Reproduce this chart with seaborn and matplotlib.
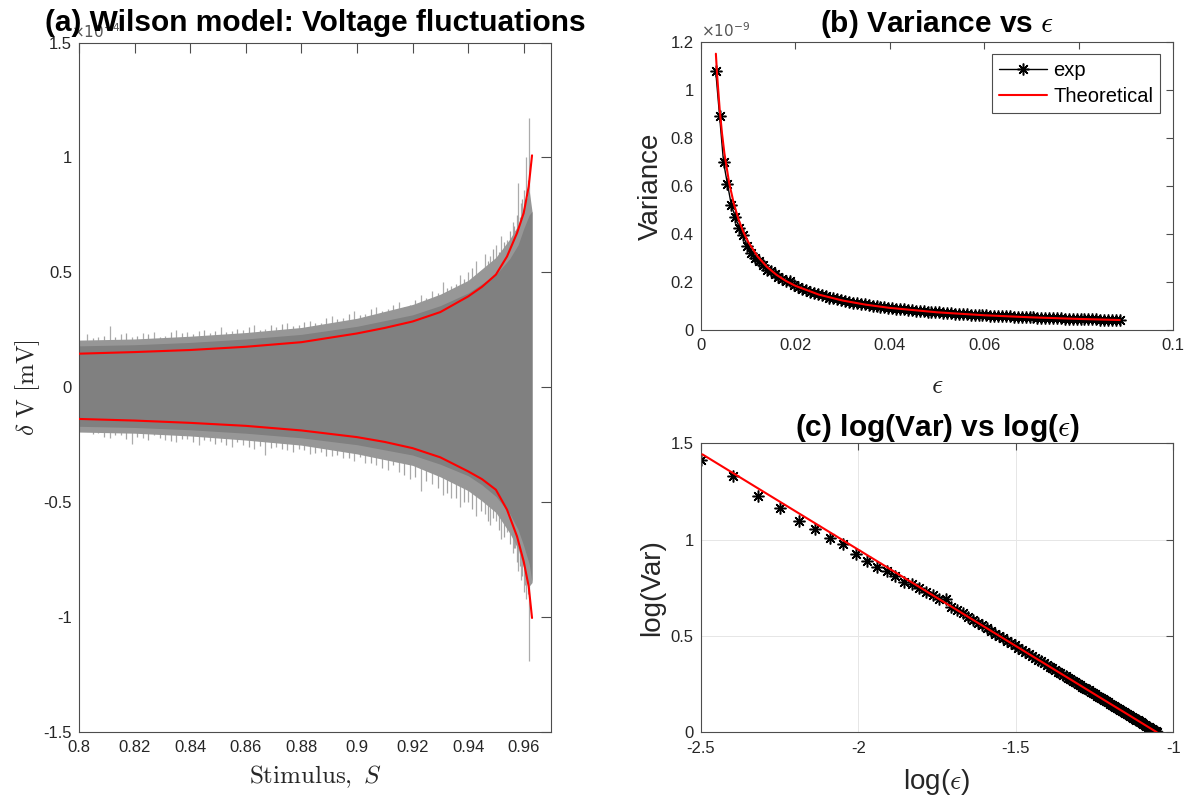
import numpy as np
import matplotlib
matplotlib.use("Agg")
import matplotlib.pyplot as plt
import seaborn as sns
from matplotlib.ticker import FixedLocator, FuncFormatter

# ---------------- data ----------------
# (a) voltage fluctuations, values in units of 1e-4 mV
S_core = [0.800, 0.820, 0.840, 0.860, 0.880, 0.900, 0.920, 0.930, 0.940, 0.945,
          0.950, 0.955, 0.958, 0.960, 0.962, 0.963]
core_hi = [0.180, 0.185, 0.195, 0.21, 0.23, 0.265, 0.315, 0.355, 0.41, 0.45,
           0.49, 0.56, 0.62, 0.69, 0.75, 0.765]
core_lo = [-0.170, -0.175, -0.185, -0.20, -0.22, -0.25, -0.295, -0.335, -0.385, -0.425,
           -0.475, -0.55, -0.62, -0.69, -0.77, -0.85]
fuzz_hi = [0.205, 0.21, 0.222, 0.238, 0.26, 0.30, 0.36, 0.405, 0.465, 0.515,
           0.565, 0.645, 0.705, 0.785, 0.855, 0.765]
fuzz_lo = [-0.195, -0.20, -0.212, -0.23, -0.252, -0.29, -0.34, -0.39, -0.45, -0.495,
           -0.545, -0.635, -0.705, -0.785, -0.865, -0.85]

S_spk = [0.803, 0.807, 0.811, 0.815, 0.819, 0.823, 0.827, 0.831, 0.835, 0.839,
         0.843, 0.847, 0.851, 0.855, 0.859, 0.863, 0.867, 0.871, 0.875, 0.879,
         0.883, 0.887, 0.891, 0.895, 0.899, 0.903, 0.907, 0.911, 0.915, 0.919,
         0.923, 0.927, 0.931, 0.934, 0.937, 0.940, 0.943, 0.946, 0.948, 0.950,
         0.952, 0.954, 0.956, 0.957, 0.958, 0.959, 0.960, 0.961, 0.962]
up_spk = [0.23, 0.22, 0.267, 0.23, 0.22, 0.235, 0.24, 0.225, 0.25, 0.24,
          0.245, 0.235, 0.26, 0.245, 0.25, 0.27, 0.255, 0.26, 0.28, 0.27,
          0.29, 0.28, 0.31, 0.30, 0.33, 0.32, 0.35, 0.34, 0.37, 0.36,
          0.40, 0.42, 0.46, 0.44, 0.49, 0.50, 0.55, 0.58, 0.57, 0.62,
          0.66, 0.64, 0.72, 0.68, 0.89, 0.80, 0.86, 1.00, 1.17]
lo_spk = [-0.19, -0.20, -0.22, -0.21, -0.245, -0.22, -0.21, -0.23, -0.24, -0.225,
          -0.25, -0.235, -0.24, -0.26, -0.25, -0.27, -0.294, -0.26, -0.275, -0.27,
          -0.29, -0.28, -0.30, -0.31, -0.32, -0.33, -0.34, -0.36, -0.37, -0.40,
          -0.45, -0.42, -0.47, -0.48, -0.52, -0.50, -0.56, -0.55, -0.60, -0.58,
          -0.66, -0.63, -0.72, -0.70, -0.80, -0.84, -0.89, -0.92, -1.19]

S_spk2 = [0.805, 0.809, 0.813, 0.817, 0.821, 0.825, 0.829, 0.833, 0.837, 0.841,
          0.845, 0.849, 0.853, 0.857, 0.861, 0.865, 0.869, 0.873, 0.877, 0.881,
          0.885, 0.889, 0.893, 0.897, 0.901, 0.905, 0.909, 0.913, 0.917, 0.921,
          0.925, 0.929, 0.9325, 0.9355, 0.9385, 0.9415, 0.9445, 0.947, 0.949, 0.951,
          0.953, 0.955, 0.9565, 0.9575, 0.9585, 0.9595, 0.9605, 0.9615]
up_spk2 = [0.215, 0.225, 0.22, 0.235, 0.225, 0.23, 0.22, 0.24, 0.235, 0.23,
           0.25, 0.245, 0.24, 0.255, 0.26, 0.25, 0.27, 0.275, 0.265, 0.285,
           0.28, 0.30, 0.295, 0.32, 0.315, 0.34, 0.33, 0.36, 0.35, 0.38,
           0.39, 0.41, 0.43, 0.45, 0.47, 0.52, 0.50, 0.55, 0.60, 0.59,
           0.63, 0.68, 0.70, 0.75, 0.74, 0.82, 0.78, 0.90]
lo_spk2 = [-0.205, -0.215, -0.21, -0.225, -0.215, -0.23, -0.22, -0.235, -0.225, -0.24,
           -0.23, -0.245, -0.25, -0.24, -0.26, -0.255, -0.265, -0.27, -0.28, -0.275,
           -0.285, -0.30, -0.295, -0.31, -0.305, -0.33, -0.35, -0.34, -0.38, -0.39,
           -0.41, -0.44, -0.46, -0.48, -0.50, -0.53, -0.54, -0.58, -0.57, -0.62,
           -0.65, -0.68, -0.70, -0.76, -0.78, -0.82, -0.86, -0.90]

S_th = [0.800, 0.820, 0.840, 0.860, 0.880, 0.900, 0.910, 0.920, 0.930, 0.940,
        0.945, 0.950, 0.954, 0.9576, 0.960, 0.9618, 0.963]
up_th = [0.146, 0.153, 0.162, 0.176, 0.196, 0.234, 0.258, 0.286, 0.327, 0.395,
         0.437, 0.49, 0.569, 0.671, 0.758, 0.874, 1.009]
lo_th = [-0.138, -0.145, -0.155, -0.168, -0.188, -0.217, -0.238, -0.265, -0.305, -0.366,
         -0.40, -0.446, -0.533, -0.649, -0.758, -0.867, -1.004]

# (b) variance vs epsilon, variance in units of 1e-9
eps_exp = [0.00316, 0.00399, 0.00482, 0.00565, 0.00648, 0.00731, 0.00814, 0.00897, 0.00980, 0.01063,
           0.01146, 0.01229, 0.01312, 0.01395, 0.01478, 0.01561, 0.01644, 0.01727, 0.01810, 0.01893,
           0.01976, 0.02059, 0.02142, 0.02225, 0.02308, 0.02391, 0.02474, 0.02557, 0.02640, 0.02723,
           0.02806, 0.02889, 0.02972, 0.03055, 0.03138, 0.03221, 0.03304, 0.03387, 0.03470, 0.03553,
           0.03636, 0.03719, 0.03802, 0.03885, 0.03968, 0.04051, 0.04134, 0.04217, 0.04300, 0.04383,
           0.04466, 0.04549, 0.04632, 0.04715, 0.04798, 0.04881, 0.04964, 0.05047, 0.05130, 0.05213,
           0.05296, 0.05379, 0.05462, 0.05545, 0.05628, 0.05711, 0.05794, 0.05877, 0.05960, 0.06043,
           0.06126, 0.06209, 0.06292, 0.06375, 0.06458, 0.06541, 0.06624, 0.06707, 0.06790, 0.06873,
           0.06956, 0.07039, 0.07122, 0.07205, 0.07288, 0.07371, 0.07454, 0.07537, 0.07620, 0.07703,
           0.07786, 0.07869, 0.07952, 0.08035, 0.08118, 0.08201, 0.08284, 0.08367, 0.08450, 0.08533,
           0.08616, 0.08699, 0.08782, 0.08865]
var_exp = [1.080, 0.890, 0.699, 0.607, 0.520, 0.470, 0.4255, 0.396, 0.349, 0.3205,
           0.300, 0.2855, 0.269, 0.249, 0.245, 0.233, 0.222, 0.2131, 0.2033, 0.2045,
           0.1862, 0.1787, 0.1718, 0.1654, 0.1594, 0.1539, 0.1487, 0.1439, 0.1394, 0.1351,
           0.1311, 0.1274, 0.1238, 0.1205, 0.1173, 0.1142, 0.1114, 0.1087, 0.1061, 0.1036,
           0.1012, 0.0990, 0.0968, 0.0947, 0.0927, 0.0908, 0.0890, 0.0873, 0.0856, 0.0840,
           0.0824, 0.0809, 0.0794, 0.0780, 0.0767, 0.0754, 0.0741, 0.0729, 0.0717, 0.0706,
           0.0695, 0.0684, 0.0674, 0.0664, 0.0654, 0.0644, 0.0635, 0.0626, 0.0617, 0.0609,
           0.0601, 0.0593, 0.0585, 0.0577, 0.0570, 0.0563, 0.0556, 0.0549, 0.0542, 0.0535,
           0.0529, 0.0523, 0.0517, 0.0511, 0.0505, 0.0499, 0.0494, 0.0488, 0.0483, 0.0478,
           0.0473, 0.0468, 0.0463, 0.0458, 0.0453, 0.0449, 0.0444, 0.0440, 0.0436, 0.0431,
           0.0427, 0.0423, 0.0419, 0.0415]

eps_th = [0.0032, 0.0035, 0.004, 0.0045, 0.005, 0.006, 0.007, 0.008, 0.009, 0.010,
          0.012, 0.014, 0.016, 0.018, 0.020, 0.025, 0.030, 0.035, 0.040, 0.050,
          0.060, 0.070, 0.080, 0.08865]
var_th = [1.150, 1.0514, 0.920, 0.8178, 0.736, 0.6133, 0.5257, 0.460, 0.4089, 0.368,
          0.3067, 0.2629, 0.230, 0.2044, 0.184, 0.1472, 0.1227, 0.1051, 0.092, 0.0736,
          0.0613, 0.0526, 0.046, 0.04151]

# (c) log-log representation (normalised by last measured variance)
var_ref = var_exp[-1]
log_eps_exp = np.log10(eps_exp)
log_var_exp = np.log10(np.array(var_exp) / var_ref)
log_eps_th = np.log10(eps_th)
log_var_th = np.log10(np.array(var_th) / var_ref)

# ---------------- style ----------------
sns.set_theme(style="white")
plt.rcParams["font.family"] = ["Liberation Sans", "DejaVu Sans"]
plt.rcParams["mathtext.fontset"] = "cm"
plt.rcParams["axes.unicode_minus"] = False

AX_COL = "#4d4d4d"
TXT_COL = "#262626"
fmt = FuncFormatter(lambda v, p: "%g" % round(v, 6))

fig = plt.figure(figsize=(11.95, 7.99), dpi=100)
axa = fig.add_axes([0.0661, 0.0839, 0.3954, 0.8629])
axb = fig.add_axes([0.5864, 0.5870, 0.3955, 0.3608])
axc = fig.add_axes([0.5864, 0.0835, 0.3955, 0.3617])

def style_axis(ax, ticklen):
    for sp in ax.spines.values():
        sp.set_color(AX_COL)
        sp.set_linewidth(0.8)
        sp.set_visible(True)
    ax.tick_params(direction="in", top=True, right=True, length=ticklen,
                   width=0.8, color=AX_COL, labelsize=12, labelcolor=TXT_COL)
    ax.tick_params(axis="y", pad=5)
    ax.tick_params(axis="x", pad=6)
    ax.xaxis.set_major_formatter(fmt)
    ax.yaxis.set_major_formatter(fmt)

TITLE_FS = 21.5
LABEL_FS = 20

# ---------------- (a) ----------------
axa.vlines(S_spk, lo_spk, up_spk, colors="#ababab", linewidth=0.9, zorder=1)
axa.vlines(S_spk2, lo_spk2, up_spk2, colors="#a3a3a3", linewidth=0.9, zorder=1)
axa.fill_between(S_core, fuzz_lo, fuzz_hi, color="#979797", linewidth=0, zorder=1.5)
axa.fill_between(S_core, core_lo, core_hi, color="#808080", linewidth=0, zorder=2)
sns.lineplot(x=S_th, y=up_th, ax=axa, color="red", linewidth=1.5, estimator=None, sort=False, zorder=3)
sns.lineplot(x=S_th, y=lo_th, ax=axa, color="red", linewidth=1.5, estimator=None, sort=False, zorder=3)
axa.set_xlim(0.8, 0.97)
axa.set_ylim(-1.5, 1.5)
axa.xaxis.set_major_locator(FixedLocator([0.8, 0.82, 0.84, 0.86, 0.88, 0.9, 0.92, 0.94, 0.96]))
axa.yaxis.set_major_locator(FixedLocator([-1.5, -1, -0.5, 0, 0.5, 1, 1.5]))
style_axis(axa, 7)
axa.set_xlabel(r"$\mathrm{Stimulus},\ S$", fontsize=18, color=TXT_COL)
axa.set_ylabel(r"$\delta\ \mathrm{V\ [mV]}$", fontsize=18, color=TXT_COL)
axa.xaxis.set_label_coords(0.5, -0.046)
axa.xaxis.label.set_va("top")
axa.yaxis.set_label_coords(-0.078, 0.5)
axa.text(-0.017, 1.002, r"$\times10^{-4}$", transform=axa.transAxes, fontsize=11,
         color="#555555", ha="left", va="bottom", math_fontfamily="dejavusans", zorder=1)
axa.set_title("(a) Wilson model: Voltage fluctuations", fontsize=TITLE_FS, fontweight="bold",
              color="black", pad=8, zorder=5)

# ---------------- (b) ----------------
sns.lineplot(x=eps_exp, y=var_exp, ax=axb, color="black", linewidth=1.0,
             marker=(8, 2, 0), markersize=8.5, markeredgewidth=1.1, markeredgecolor="black",
             estimator=None, sort=False, label="exp", zorder=2)
sns.lineplot(x=eps_th, y=var_th, ax=axb, color="red", linewidth=1.5,
             estimator=None, sort=False, label="Theoretical", zorder=3)
axb.set_xlim(0, 0.1)
axb.set_ylim(0, 1.2)
axb.xaxis.set_major_locator(FixedLocator([0, 0.02, 0.04, 0.06, 0.08, 0.1]))
axb.yaxis.set_major_locator(FixedLocator([0, 0.2, 0.4, 0.6, 0.8, 1.0, 1.2]))
style_axis(axb, 5)
axb.set_xlabel(r"$\epsilon$", fontsize=LABEL_FS, color=TXT_COL)
axb.xaxis.set_label_coords(0.5, -0.15)
axb.xaxis.label.set_va("top")
axb.set_ylabel("Variance", fontsize=LABEL_FS, color=TXT_COL)
axb.yaxis.set_label_coords(-0.078, 0.5)
axb.text(0.0, 1.005, r"$\times10^{-9}$", transform=axb.transAxes, fontsize=11,
         color="#555555", ha="left", va="bottom", math_fontfamily="dejavusans")
axb.set_title(r"(b) Variance vs $\epsilon$", fontsize=TITLE_FS, fontweight="bold",
              color="black", pad=7)
leg = axb.legend(loc="upper right", bbox_to_anchor=(0.972, 0.957), fontsize=14.5,
                 frameon=True, fancybox=False, edgecolor=AX_COL, framealpha=1,
                 handlelength=2.4, borderpad=0.35, labelspacing=0.35, handletextpad=0.3,
                 borderaxespad=0)
leg.get_frame().set_linewidth(0.8)
for t in leg.get_texts():
    t.set_color("black")

# ---------------- (c) ----------------
axc.grid(True, color="#e6e6e6", linewidth=0.7, zorder=0)
sns.lineplot(x=log_eps_exp, y=log_var_exp, ax=axc, color="black", linestyle="none",
             marker=(8, 2, 0), markersize=8.5, markeredgewidth=1.1, markeredgecolor="black",
             estimator=None, sort=False, zorder=2)
sns.lineplot(x=log_eps_th, y=log_var_th, ax=axc, color="red", linewidth=1.5,
             estimator=None, sort=False, zorder=3)
axc.set_xlim(-2.5, -1)
axc.set_ylim(0, 1.5)
axc.xaxis.set_major_locator(FixedLocator([-2.5, -2, -1.5, -1]))
axc.yaxis.set_major_locator(FixedLocator([0, 0.5, 1, 1.5]))
style_axis(axc, 5)
axc.set_axisbelow(True)
axc.set_xlabel(r"log($\epsilon$)", fontsize=LABEL_FS, color=TXT_COL)
axc.xaxis.set_label_coords(0.5, -0.12)
axc.xaxis.label.set_va("top")
axc.set_ylabel("log(Var)", fontsize=LABEL_FS, color=TXT_COL)
axc.yaxis.set_label_coords(-0.075, 0.5)
axc.set_title(r"(c) log(Var) vs log($\epsilon$)", fontsize=TITLE_FS, fontweight="bold",
              color="black", pad=5)

fig.savefig("out.png", dpi=100, facecolor="white")
